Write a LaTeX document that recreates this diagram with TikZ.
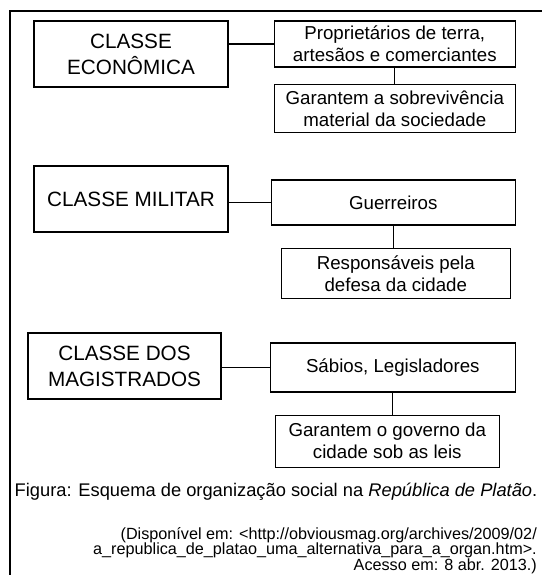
\documentclass[tikz,border=0pt]{standalone}
\usepackage{fontspec}
\setmainfont{Liberation Sans}
\usepackage{tikz}
\usetikzlibrary{positioning}

\begin{document}
\begin{tikzpicture}[
    x=1pt, y=-1pt,
    classbox/.style={draw, line width=1.3pt, align=center, inner sep=0pt, minimum width=194pt, minimum height=66pt, font=\fontsize{20.7}{26}\selectfont},
    infobox/.style={draw, line width=1.3pt, align=center, inner sep=0pt, font=\fontsize{18.7}{22}\selectfont},
    link/.style={line width=1.3pt},
    node distance=16pt and 45pt
]
\useasboundingbox (0,0) rectangle (542,575);
\draw[line width=2pt] (9.5,575) -- (9.5,11.5) -- (542,11.5);

% classe economica
\node[classbox] (eco) at (131,54) {CLASSE\\ECONÔMICA};
\node[infobox, minimum width=241pt, minimum height=46pt, right=45pt of eco, yshift=10pt] (prop) {Proprietários de terra,\\artesãos e comerciantes};
\node[infobox, minimum width=241pt, minimum height=48pt, below=16pt of prop] (sobrev) {Garantem a sobrevivência\\material da sociedade};

% classe militar
\node[classbox] (mil) at (131,199) {CLASSE MILITAR};
\node[infobox, minimum width=244pt, minimum height=45pt, right=42pt of mil, yshift=-3.5pt] (guer) {Guerreiros};
\node[infobox, minimum width=229pt, minimum height=50pt, below=22pt of guer, xshift=2.5pt] (resp) {Responsáveis pela\\defesa da cidade};

% classe dos magistrados
\node[classbox, minimum width=193pt] (mag) at (124.5,366) {CLASSE DOS\\MAGISTRADOS};
\node[infobox, minimum width=245pt, minimum height=49pt, right=48pt of mag, yshift=-1.5pt] (sab) {Sábios, Legisladores};
\node[infobox, minimum width=224pt, minimum height=52pt, below=22pt of sab, xshift=-5.5pt] (gov) {Garantem o governo da\\cidade sob as leis};

\draw[link] (prop.west) -- (prop.west -| eco.east);
\draw[link] (prop.south) -- (prop.south |- sobrev.north);
\draw[link] (guer.west) -- (guer.west -| mil.east);
\draw[link] (guer.south) -- (guer.south |- resp.north);
\draw[link] (sab.west) -- (sab.west -| mag.east);
\draw[link] (sab.south) -- (sab.south |- gov.north);

\node[anchor=base, inner sep=0pt, font=\fontsize{18.3}{21}\selectfont] (caption) at (276,496) {Figura: Esquema de organização social na \textit{República de Platão}.};
\node[anchor=north east, align=right, inner sep=0pt, font={\fontsize{16.2}{15.5}\selectfont\lineskiplimit-20pt\relax}] (source) at (537,527) {(Disponível em: <http://obviousmag.org/archives/2009/02/\\a\_republica\_de\_platao\_uma\_alternativa\_para\_a\_organ.htm>.\\Acesso em: 8 abr. 2013.)};
\end{tikzpicture}
\end{document}
